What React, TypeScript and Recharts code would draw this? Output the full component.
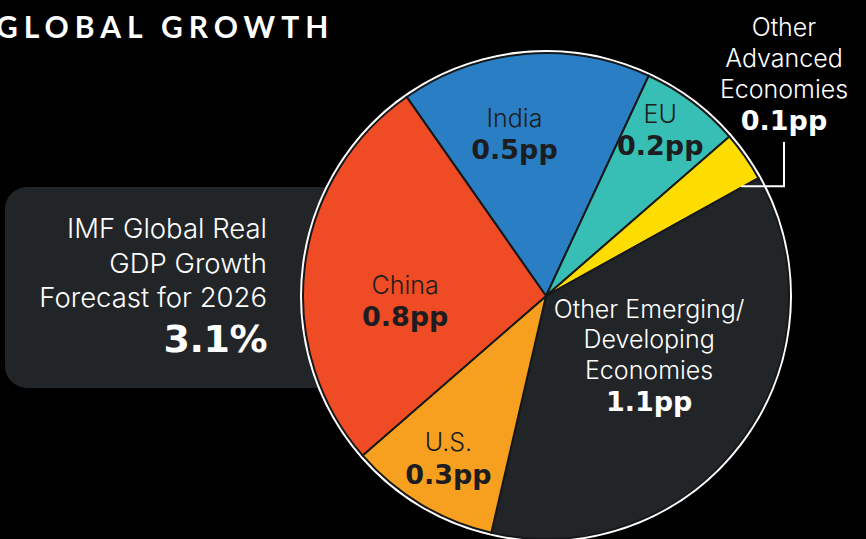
import { Pie, PieChart, Cell } from 'recharts';

const regions = ['India', 'EU', 'Other Advanced Economies', 'Other Emerging/Developing Economies', 'U.S.', 'China'];
const contributions = [0.5, 0.2, 0.1, 1.1, 0.3, 0.8];
const nameLines = [['India'], ['EU'], ['Other', 'Advanced', 'Economies'], ['Other Emerging/', 'Developing', 'Economies'], ['U.S.'], ['China']];
const headline = ['IMF Global Real', 'GDP Growth', 'Forecast for 2026'];
const headlineValue = '3.1%';

const sliceColors: Record<string, string> = {
  India: '#2a7fc4',
  EU: '#37bfb6',
  'Other Advanced Economies': '#fddc00',
  'Other Emerging/Developing Economies': '#222528',
  'U.S.': '#f7a020',
  China: '#ef4b24',
};

// label placement: fraction of radius, and a small turn (degrees, clockwise) off the mid angle
const labelPlace: Record<string, { r: number; turn: number }> = {
  India: { r: 0.68, turn: -6 },
  EU: { r: 0.83, turn: -2.5 },
  'Other Emerging/Developing Economies': { r: 0.49, turn: -7 },
  'U.S.': { r: 0.78, turn: 0 },
  China: { r: 0.58, turn: -9 },
};

const pieData = regions.map((name, i) => ({ name, value: contributions[i], lines: nameLines[i] }));
const ringData = [{ name: 'ring', value: 1 }];

const RADIAN = Math.PI / 180;
const nameFont = 'Inter, "Noto Sans", sans-serif';
const valueFont = '"DejaVu Sans", Lato, sans-serif';

function formatPp(v: number) {
  return `${v.toFixed(1)}pp`;
}

function SliceLabel(props: any) {
  const { cx, cy, midAngle, outerRadius, payload, value } = props;
  const name = payload.name as string;
  const lines = payload.lines as string[];

  if (name === 'Other Advanced Economies') {
    const r = outerRadius * 0.96;
    const sx = cx + r * Math.cos(-midAngle * RADIAN);
    const sy = cy + r * Math.sin(-midAngle * RADIAN);
    const lx = 784;
    const topY = 142;
    return (
      <g>
        <polyline points={`${sx + 4},${sy + 24} ${lx},${sy + 24} ${lx},${topY}`} fill="none" stroke="#fff" strokeWidth={2} />
        {lines.map((l, i) => (
          <text key={l} x={lx} y={36 + i * 31} textAnchor="middle" fill="#fff" fontFamily={nameFont} fontSize={25} fontWeight={300}>
            {l}
          </text>
        ))}
        <text x={lx} y={130} textAnchor="middle" fill="#fff" fontFamily={valueFont} fontSize={27} fontWeight={700}>
          {formatPp(value)}
        </text>
      </g>
    );
  }

  const place = labelPlace[name] ?? { r: 0.6, turn: 0 };
  const ang = midAngle - place.turn;
  const r = outerRadius * place.r;
  const x = cx + r * Math.cos(-ang * RADIAN);
  const y = cy + r * Math.sin(-ang * RADIAN);
  const color = name === 'Other Emerging/Developing Economies' ? '#fff' : '#1b1d20';
  const lineGap = 30.5;
  const n = lines.length;

  return (
    <g>
      {lines.map((l, i) => (
        <text
          key={l}
          x={x}
          y={y + (i - n / 2) * lineGap + 8}
          textAnchor="middle"
          fill={color}
          fontFamily={nameFont}
          fontSize={25}
          fontWeight={300}
        >
          {l}
        </text>
      ))}
      <text x={x} y={y + (n / 2) * lineGap + 10} textAnchor="middle" fill={color} fontFamily={valueFont} fontSize={27} fontWeight={700}>
        {formatPp(value)}
      </text>
    </g>
  );
}

export default function App() {
  return (
    <div style={{ position: 'absolute', left: 0, top: 0, width: 866, height: 539, background: '#000', overflow: 'hidden' }}>
      <div
        style={{
          position: 'absolute',
          left: -4,
          top: 7,
          color: '#fff',
          fontFamily: 'Lato, Inter, sans-serif',
          fontWeight: 700,
          fontSize: 30,
          letterSpacing: 6,
          lineHeight: '38px',
          whiteSpace: 'nowrap',
        }}
      >
        GLOBAL GROWTH
      </div>

      <div
        style={{
          position: 'absolute',
          left: 5,
          top: 187,
          width: 380,
          height: 201,
          borderRadius: 22,
          background: '#222528',
        }}
      />
      <div
        style={{
          position: 'absolute',
          left: 10,
          top: 211,
          width: 257,
          textAlign: 'right',
          color: '#fff',
          fontFamily: nameFont,
          fontWeight: 300,
          fontSize: 27.5,
          lineHeight: '34.5px',
        }}
      >
        {headline.map((l) => (
          <div key={l}>{l}</div>
        ))}
        <div style={{ fontFamily: valueFont, fontWeight: 700, fontSize: 38, lineHeight: '48px', letterSpacing: -0.5 }}>{headlineValue}</div>
      </div>

      <div style={{ position: 'absolute', left: 0, top: 0 }}>
        <PieChart width={866} height={539}>
          <Pie
            data={ringData}
            dataKey="value"
            cx={541}
            cy={291}
            innerRadius={242}
            outerRadius={246}
            fill="#fff"
            stroke="none"
            isAnimationActive={false}
          />
          <Pie
            data={pieData}
            dataKey="value"
            nameKey="name"
            cx={541}
            cy={291}
            outerRadius={243}
            startAngle={125}
            endAngle={-235}
            stroke="#16181a"
            strokeWidth={2}
            label={SliceLabel}
            labelLine={false}
            isAnimationActive={false}
          >
            {pieData.map((d) => (
              <Cell key={d.name} fill={sliceColors[d.name]} />
            ))}
          </Pie>
        </PieChart>
      </div>
    </div>
  );
}
